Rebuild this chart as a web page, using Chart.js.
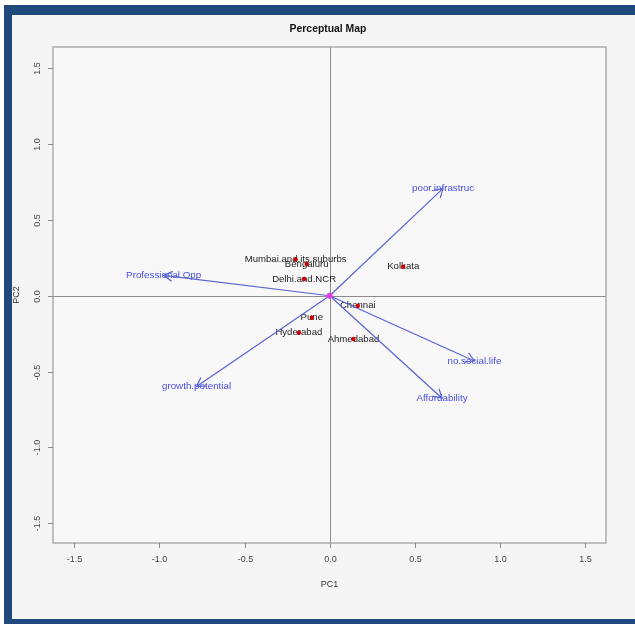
<!DOCTYPE html>
<html>
<head>
<meta charset="utf-8">
<title>Perceptual Map</title>
<script src="https://cdn.jsdelivr.net/npm/chart.js@4/dist/chart.umd.min.js"></script>
<style>
  html, body { margin: 0; padding: 0; background: #ffffff; }
  canvas { display: block; }
</style>
</head>
<body>
<canvas id="c" width="635" height="624"></canvas>
<script>
// City scores on the first two principal components
const cities  = ["Mumbai.and.its.suburbs", "Bengaluru", "Delhi.and.NCR", "Kolkata",
                 "Chennai", "Pune", "Hyderabad", "Ahmedabad"];
const cityPC1 = [-0.200, -0.135, -0.150, 0.432, 0.165, -0.105, -0.181, 0.140];
const cityPC2 = [ 0.240,  0.209,  0.110, 0.191, -0.066, -0.145, -0.244, -0.285];

// Attribute loadings (arrow tips)
const attributes = ["Professional.Opp", "poor.infrastruc", "no.social.life",
                    "Affordability", "growth.potential"];
const loadPC1 = [-0.975, 0.666,  0.850,  0.660, -0.782];
const loadPC2 = [ 0.135, 0.708, -0.430, -0.676, -0.599];

// Axis ticks
const tickValues = [-1.5, -1.0, -0.5, 0.0, 0.5, 1.0, 1.5];
const tickLabels = ["-1.5", "-1.0", "-0.5", "0.0", "0.5", "1.0", "1.5"];

const FONT = '"Liberation Sans", Arial, Helvetica, sans-serif';
const ARROW_COLOR = '#5a62d4';
const ARROW_TEXT = '#4a4ee0';

const cityPoints = cities.map((name, i) => ({ x: cityPC1[i], y: cityPC2[i] }));

const arrowDatasets = attributes.map((name, i) => ({
  label: name,
  data: [{ x: 0, y: 0 }, { x: loadPC1[i], y: loadPC2[i] }],
  showLine: true,
  borderColor: ARROW_COLOR,
  borderWidth: 1.2,
  pointRadius: 0,
  fill: false,
  order: 2,
  isArrow: true
}));

const mapPlugin = {
  id: 'perceptualMap',
  beforeDraw(chart) {
    const ctx = chart.ctx;
    const W = chart.width, H = chart.height;
    const a = chart.chartArea;
    ctx.save();
    ctx.fillStyle = '#ffffff';
    ctx.fillRect(0, 0, W, H);
    // outer frame
    ctx.fillStyle = '#1f497d';
    ctx.fillRect(4, 5, W - 4, H - 5);
    ctx.fillStyle = '#f5f5f5';
    ctx.fillRect(12, 15, W - 12, 604);
    // plotting region
    ctx.fillStyle = '#f8f8f8';
    ctx.fillRect(a.left, a.top, a.right - a.left, a.bottom - a.top);
    ctx.restore();
  },
  beforeDatasetsDraw(chart) {
    const ctx = chart.ctx;
    const a = chart.chartArea;
    const xs = chart.scales.x, ys = chart.scales.y;
    ctx.save();

    // reference lines through the origin
    ctx.strokeStyle = '#8c8c8c';
    ctx.lineWidth = 1;
    const x0 = Math.round(xs.getPixelForValue(0)) + 0.5;
    const y0 = Math.round(ys.getPixelForValue(0)) + 0.5;
    ctx.beginPath();
    ctx.moveTo(x0, a.top); ctx.lineTo(x0, a.bottom);
    ctx.moveTo(a.left, y0); ctx.lineTo(a.right, y0);
    ctx.stroke();

    // box
    ctx.strokeStyle = '#a0a0a0';
    ctx.lineWidth = 1.3;
    ctx.strokeRect(a.left, a.top, a.right - a.left, a.bottom - a.top);

    // ticks and tick labels
    ctx.strokeStyle = '#8a8a8a';
    ctx.lineWidth = 1;
    ctx.fillStyle = '#444444';
    ctx.font = '9px ' + FONT;
    ctx.textAlign = 'center';
    ctx.textBaseline = 'middle';
    tickValues.forEach((v, i) => {
      const px = Math.round(xs.getPixelForValue(v)) + 0.5;
      ctx.beginPath();
      ctx.moveTo(px, a.bottom); ctx.lineTo(px, a.bottom + 5);
      ctx.stroke();
      ctx.fillText(tickLabels[i], px, a.bottom + 17);

      const py = Math.round(ys.getPixelForValue(v)) + 0.5;
      ctx.beginPath();
      ctx.moveTo(a.left, py); ctx.lineTo(a.left - 5, py);
      ctx.stroke();
      ctx.save();
      ctx.translate(a.left - 15, py);
      ctx.rotate(-Math.PI / 2);
      ctx.fillText(tickLabels[i], 0, 0);
      ctx.restore();
    });

    // axis titles
    ctx.fillStyle = '#333333';
    ctx.font = '9px ' + FONT;
    ctx.fillText('PC1', (a.left + a.right) / 2, a.bottom + 42);
    ctx.save();
    ctx.translate(17, (a.top + a.bottom) / 2);
    ctx.rotate(-Math.PI / 2);
    ctx.fillText('PC2', 0, 0);
    ctx.restore();

    // main title
    ctx.fillStyle = '#111111';
    ctx.font = 'bold 10.4px ' + FONT;
    ctx.fillText('Perceptual Map', 328, 29);

    // city names
    ctx.font = '9.6px ' + FONT;
    ctx.fillStyle = '#1e1e1e';
    cities.forEach((name, i) => {
      ctx.fillText(name, xs.getPixelForValue(cityPC1[i]), ys.getPixelForValue(cityPC2[i]));
    });

    // attribute names at arrow tips
    ctx.font = '9.8px ' + FONT;
    ctx.fillStyle = ARROW_TEXT;
    attributes.forEach((name, i) => {
      ctx.fillText(name, xs.getPixelForValue(loadPC1[i]), ys.getPixelForValue(loadPC2[i]));
    });
    ctx.restore();
  },
  afterDatasetDraw(chart, args) {
    const ds = chart.data.datasets[args.index];
    if (!ds.isArrow) return;
    const pts = args.meta.data;
    const p0 = pts[0], p1 = pts[1];
    const ang = Math.atan2(p1.y - p0.y, p1.x - p0.x);
    const len = 10, spread = Math.PI / 6;
    const ctx = chart.ctx;
    ctx.save();
    ctx.strokeStyle = ARROW_COLOR;
    ctx.lineWidth = 1.2;
    ctx.beginPath();
    ctx.moveTo(p1.x - len * Math.cos(ang - spread), p1.y - len * Math.sin(ang - spread));
    ctx.lineTo(p1.x, p1.y);
    ctx.lineTo(p1.x - len * Math.cos(ang + spread), p1.y - len * Math.sin(ang + spread));
    ctx.stroke();
    ctx.restore();
  }
};

new Chart(document.getElementById('c'), {
  type: 'scatter',
  data: {
    datasets: [
      {
        label: 'cities',
        data: cityPoints,
        pointRadius: 2.2,
        pointBackgroundColor: '#cc0000',
        pointBorderWidth: 0,
        order: 1
      },
      {
        label: 'origin',
        data: [{ x: 0, y: 0 }],
        pointRadius: 3,
        pointBackgroundColor: '#e23ce6',
        pointBorderWidth: 0,
        order: 0
      },
      ...arrowDatasets
    ]
  },
  options: {
    responsive: false,
    animation: false,
    devicePixelRatio: 1,
    events: [],
    layout: { padding: { left: 53, right: 29, top: 47, bottom: 81 } },
    scales: {
      x: { type: 'linear', min: -1.625, max: 1.623, display: false },
      y: { type: 'linear', min: -1.63, max: 1.64, display: false }
    },
    plugins: {
      legend: { display: false },
      tooltip: { enabled: false },
      title: { display: false }
    }
  },
  plugins: [mapPlugin]
});
</script>
</body>
</html>
